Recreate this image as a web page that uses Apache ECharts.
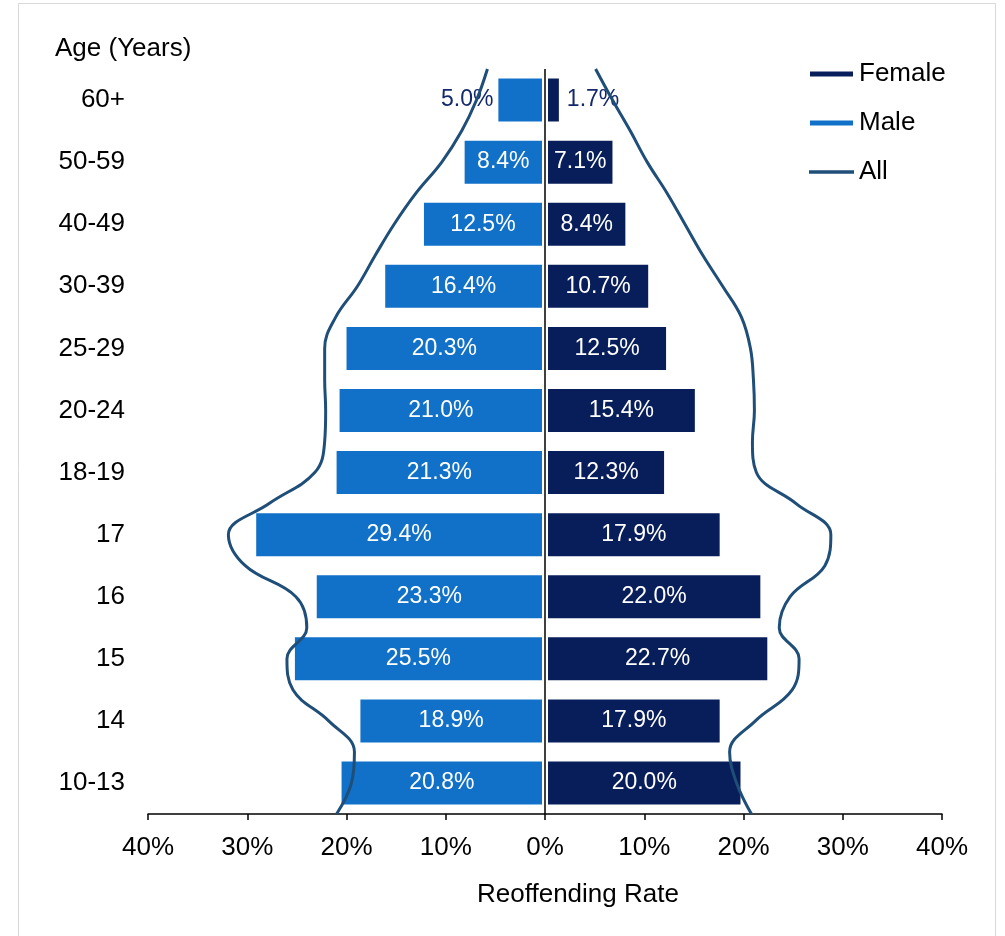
<!DOCTYPE html>
<html>
<head>
<meta charset="utf-8">
<script src="https://cdn.jsdelivr.net/npm/echarts@6/dist/echarts.min.js"></script>
<style>
  html, body { margin: 0; padding: 0; background: #fff; }
  #chart { width: 1005px; height: 936px; }
</style>
</head>
<body>
<div id="chart"></div>
<script>
// age groups, top to bottom
var ageGroups = ['60+', '50-59', '40-49', '30-39', '25-29', '20-24', '18-19', '17', '16', '15', '14', '10-13'];
// reoffending rate (%)
var maleRate = [5.0, 8.4, 12.5, 16.4, 20.3, 21.0, 21.3, 29.4, 23.3, 25.5, 18.9, 20.8];
var femaleRate = [1.7, 7.1, 8.4, 10.7, 12.5, 15.4, 12.3, 17.9, 22.0, 22.7, 17.9, 20.0];
// "All" outline, read every half row from the top edge (0) to the bottom edge (12)
var allLeft = [5.8, 6.9, 8.4, 10.4, 13.0, 15.2, 17.1, 18.9, 21.1, 22.2, 22.2, 22.1, 22.2,
               23.2, 27.8, 31.9, 30.2, 25.1, 24.0, 26.0, 25.4, 21.8, 19.2, 19.5, 21.0];
var allRight = [5.1, 6.8, 8.6, 10.3, 12.3, 14.1, 15.9, 17.9, 19.8, 20.7, 21.0, 21.1, 20.9,
                21.3, 25.3, 28.8, 28.2, 24.7, 23.6, 25.6, 24.9, 21.2, 18.6, 19.3, 20.8];
var xTicks = [-40, 40, 10];

var myChart = echarts.init(document.getElementById('chart'));

var font = '"Liberation Sans", Arial, sans-serif';
var outsideColor = '#12296a';

function pct(v) {
    return Math.abs(v).toFixed(1) + '%';
}

var maleData = maleRate.map(function (v) {
    var item = { value: -v };
    if (v < 6) item.label = { position: 'left', distance: 2, color: outsideColor };
    return item;
});
var femaleData = femaleRate.map(function (v) {
    var item = { value: v };
    if (v < 5) item.label = { position: 'right', distance: 5, color: outsideColor };
    return item;
});

var barLabel = {
    show: true,
    position: 'inside',
    color: '#fff',
    fontSize: 23,
    fontFamily: font,
    formatter: function (p) { return pct(p.value); }
};

var option = {
    animation: false,
    textStyle: { fontFamily: font },
    title: [
        { text: 'Age (Years)', left: 50, top: 31, textStyle: { fontFamily: font, fontSize: 26, fontWeight: 'normal', color: '#000' } },
        { text: 'Reoffending Rate', left: 472, top: 877, textStyle: { fontFamily: font, fontSize: 26, fontWeight: 'normal', color: '#000' } }
    ],
    graphic: [{
        type: 'rect',
        shape: { x: 18.5, y: 3.5, width: 977, height: 960 },
        style: { fill: 'none', stroke: '#d9d9d9', lineWidth: 1 },
        silent: true
    }],
    legend: {
        orient: 'vertical',
        left: 803,
        top: 56,
        itemWidth: 45,
        itemHeight: 7,
        itemGap: 23,
        textStyle: { fontFamily: font, fontSize: 26, color: '#000', lineHeight: 26, padding: [0, 0, 0, 0] },
        data: [
            { name: 'Female', icon: 'rect' },
            { name: 'Male', icon: 'rect' },
            { name: 'All', icon: 'path://M0,0h55v4H0z' }
        ]
    },
    grid: { left: 148, right: 63, top: 69, bottom: 122 },
    xAxis: {
        type: 'value',
        min: xTicks[0],
        max: xTicks[1],
        interval: xTicks[2],
        axisLine: { show: true, onZero: false, lineStyle: { color: '#000', width: 1.5 } },
        axisTick: { show: true, length: 6, lineStyle: { color: '#000', width: 1.5 } },
        splitLine: { show: false },
        axisLabel: {
            margin: 21,
            fontSize: 26,
            color: '#000',
            fontFamily: font,
            formatter: function (v) { return Math.abs(v) + '%'; }
        }
    },
    yAxis: [
        {
            type: 'category',
            inverse: true,
            data: ageGroups,
            axisLine: { show: false },
            axisTick: { show: false },
            axisLabel: { margin: 23, fontSize: 26, color: '#000', fontFamily: font }
        },
        {
            type: 'value',
            inverse: true,
            min: 0,
            max: 12,
            show: false
        }
    ],
    series: [
        {
            name: 'Male',
            type: 'bar',
            stack: 'age',
            barWidth: 49,
            itemStyle: { color: '#1170c8', borderColor: '#fff', borderWidth: 3 },
            label: barLabel,
            data: maleData
        },
        {
            name: 'Female',
            type: 'bar',
            stack: 'age',
            barWidth: 49,
            itemStyle: { color: '#081e5a', borderColor: '#fff', borderWidth: 3 },
            label: barLabel,
            data: femaleData
        },
        {
            name: 'All',
            type: 'line',
            yAxisIndex: 1,
            smooth: 0.4,
            symbol: 'none',
            z: 5,
            lineStyle: { color: '#1f4e79', width: 3 },
            itemStyle: { color: '#1f4e79' },
            data: allLeft.map(function (v, i) { return [-v, i * 0.5]; }),
            markLine: {
                silent: true,
                symbol: 'none',
                label: { show: false },
                data: [
                    { xAxis: 0, lineStyle: { color: '#000', width: 1.5, type: 'solid' } }
                ]
            }
        },
        {
            name: 'All',
            type: 'line',
            yAxisIndex: 1,
            smooth: 0.4,
            symbol: 'none',
            z: 5,
            lineStyle: { color: '#1f4e79', width: 3 },
            itemStyle: { color: '#1f4e79' },
            data: allRight.map(function (v, i) { return [v, i * 0.5]; })
        }
    ]
};
myChart.setOption(option);
</script>
</body>
</html>
